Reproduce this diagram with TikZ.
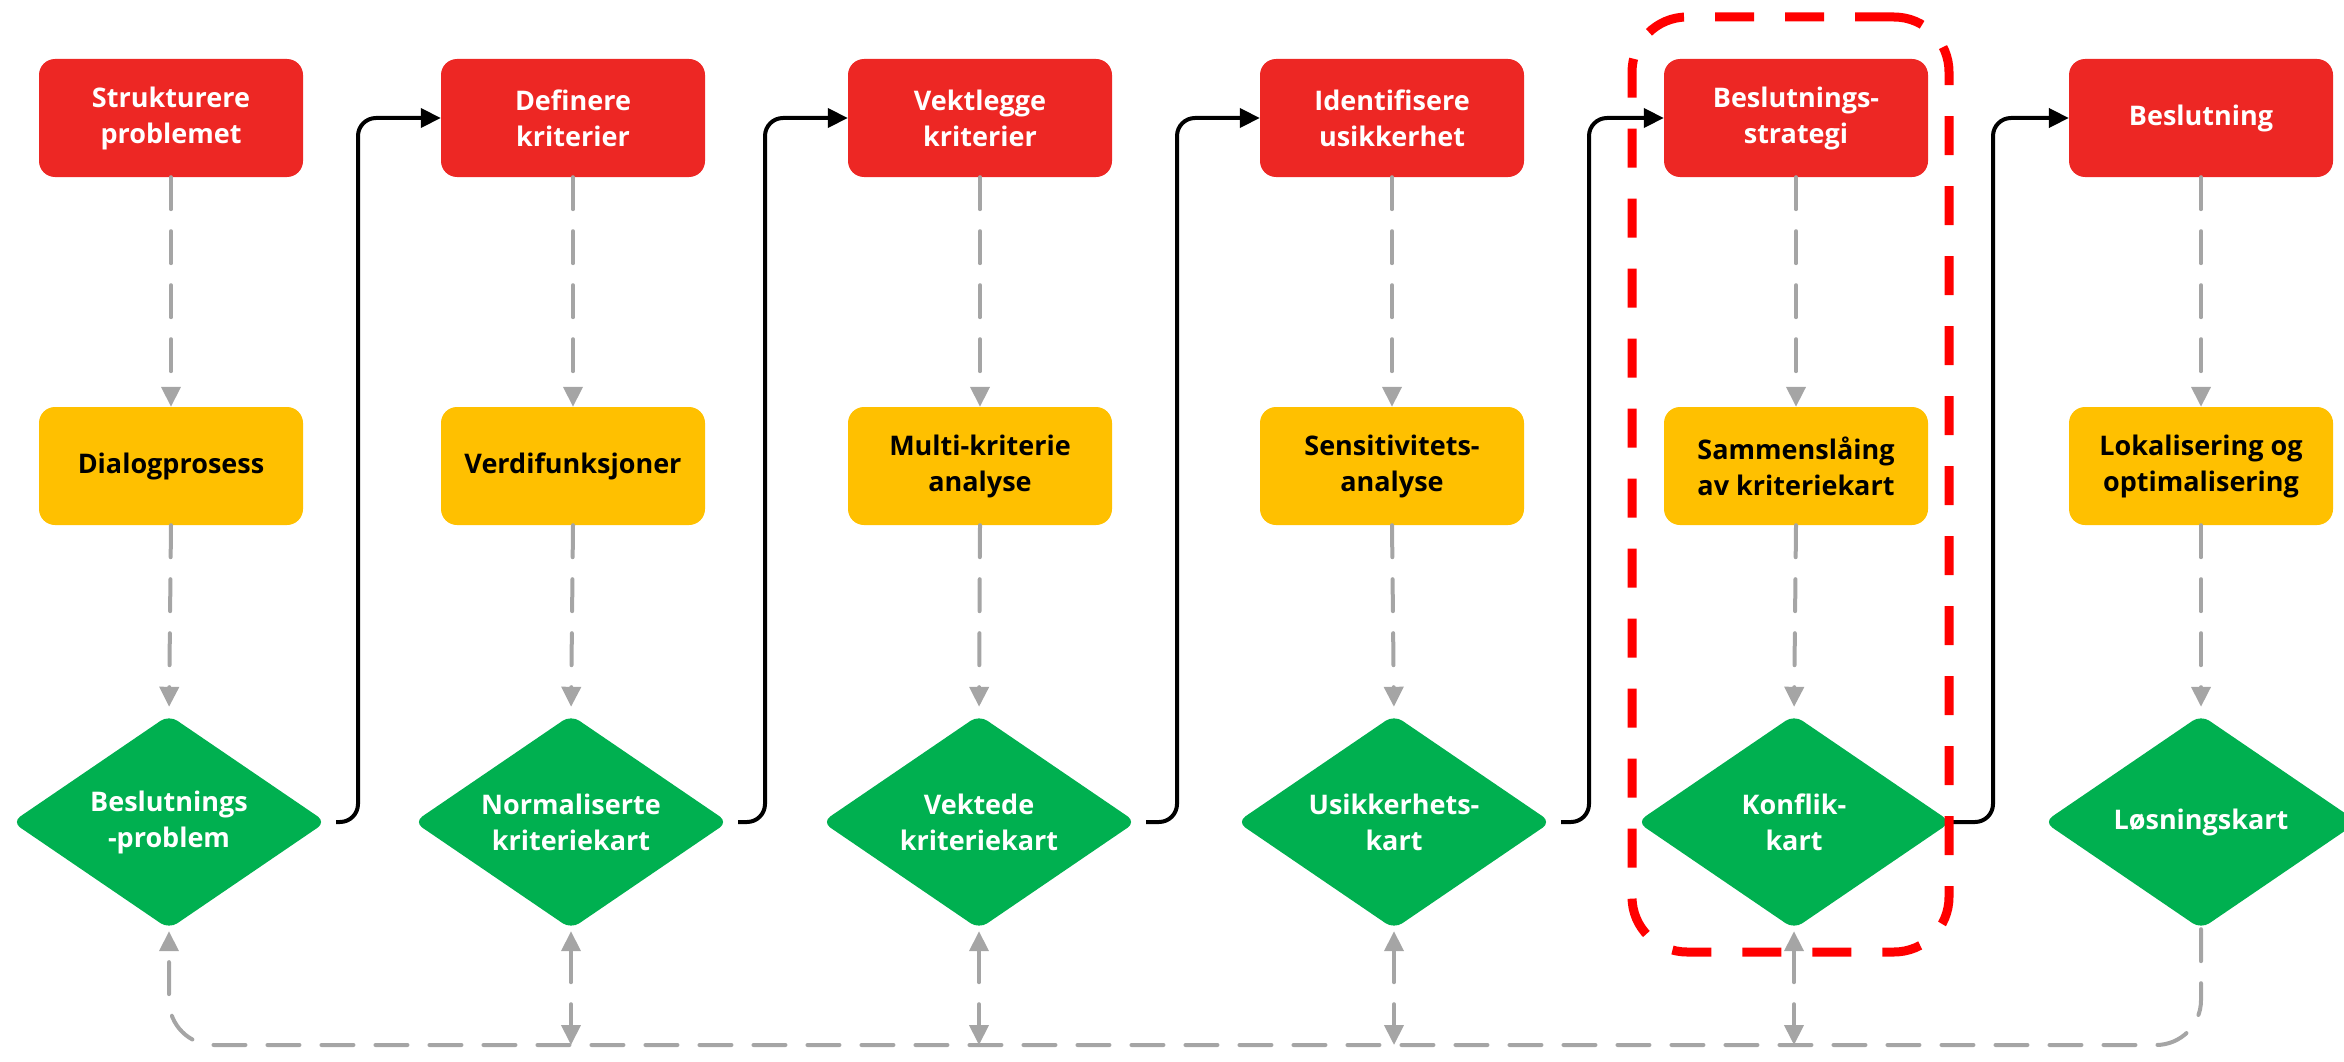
\documentclass[tikz,border=0pt]{standalone}
\usepackage{fontspec}
\setmainfont{Open Sans}
\usetikzlibrary{shapes.geometric,arrows.meta}

\definecolor{stagered}{RGB}{237,39,36}
\definecolor{methodyellow}{RGB}{255,192,0}
\definecolor{productgreen}{RGB}{0,176,80}
\definecolor{flowgray}{RGB}{165,165,165}
\definecolor{framered}{RGB}{255,0,0}

\begin{document}
\begin{tikzpicture}[x=1pt,y=-1pt,
  font=\fontsize{27}{36}\selectfont\bfseries,
  box/.style={rectangle, rounded corners=16pt, minimum width=264pt,
    minimum height=118pt, inner sep=0pt, align=center},
  stage/.style={box, fill=stagered, text=white},
  method/.style={box, fill=methodyellow, text=black},
  product/.style={diamond, aspect=1.45, fill=productgreen, text=white,
    align=center, minimum width=314pt, minimum height=214pt, inner sep=0pt,
    rounded corners=10pt},
  tip/.tip={Triangle[length=20pt,width=19pt]},
  flow/.style={draw=flowgray, line width=4pt, line cap=round,
    dash pattern=on 32pt off 22pt},
  link/.style={draw=black, line width=4pt, rounded corners=18pt, -tip},
  focus/.style={draw=framered, line width=9pt, rounded corners=55pt,
    dash pattern=on 39pt off 31pt, rectangle, inner sep=0pt}
]
\useasboundingbox (0,0) rectangle (2344,1062);

% stages (red)
\node[stage] (r1) at (171,118) {Strukturere\\problemet};
\node[stage] (r2) at (573,118) {Definere\\kriterier};
\node[stage] (r3) at (980,118) {Vektlegge\\kriterier};
\node[stage] (r4) at (1392,118) {Identifisere\\usikkerhet};
\node[stage] (r5) at (1796,118) {Beslutnings-\\strategi};
\node[stage] (r6) at (2201,118) {Beslutning};

% methods (yellow)
\node[method] (m1) at (171,466) {Dialogprosess};
\node[method] (m2) at (573,466) {Verdifunksjoner};
\node[method] (m3) at (980,466) {Multi-kriterie\\analyse};
\node[method] (m4) at (1392,466) {Sensitivitets-\\analyse};
\node[method] (m5) at (1796,466) {Sammenslåing\\av kriteriekart};
\node[method] (m6) at (2201,466) {Lokalisering og\\optimalisering};

% products (green)
\node[product] (d1) at (169,822) {Beslutnings\\-problem};
\node[product] (d2) at (571,822) {Normaliserte\\kriteriekart};
\node[product] (d3) at (979,822) {Vektede\\kriteriekart};
\node[product] (d4) at (1394,822) {Usikkerhets-\\kart};
\node[product] (d5) at (1794,822) {Konflik-\\kart};
\node[product] (d6) at (2201,822) {Løsningskart};

% vertical flow within each column
\foreach \k in {1,...,6}{
  \draw[flow, -tip] (r\k.south) -- (m\k.north);
  \draw[flow, -tip, shorten >=8pt] (m\k.south) -- (d\k.north);
}

% steps from one column to the next
\coordinate (v1) at (358,118);
\coordinate (v2) at (765,118);
\coordinate (v3) at (1177,118);
\coordinate (v4) at (1589,118);
\coordinate (v5) at (1993,118);
\draw[link] ([xshift=10pt]d1.east) -| (v1) -- (r2.west);
\draw[link] ([xshift=10pt]d2.east) -| (v2) -- (r3.west);
\draw[link] ([xshift=10pt]d3.east) -| (v3) -- (r4.west);
\draw[link] ([xshift=10pt]d4.east) -| (v4) -- (r5.west);
\draw[link] ([xshift=2pt]d5.east) -| (v5) -- (r6.west);

% feedback line along the bottom
\coordinate (bl) at (169,1045);
\draw[flow, rounded corners=45pt, -tip, shorten >=2pt]
  (d6.south) |- (bl) -- (d1.south);
\foreach \k in {2,...,5}{
  \draw[flow, tip-tip, shorten <=2pt] (d\k.south) -- (d\k.south |- bl);
}

% highlighted stage
\node[focus, minimum width=317pt, minimum height=935pt] (hl) at (1790.5,484.5) {};
\end{tikzpicture}
\end{document}
